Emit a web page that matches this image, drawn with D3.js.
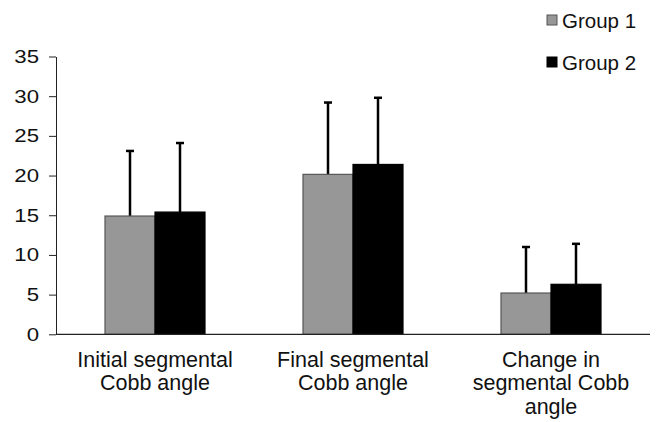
<!DOCTYPE html>
<html><head><meta charset="utf-8">
<script src="https://cdn.jsdelivr.net/npm/d3@7"></script>
<style>body{margin:0;background:#fff}svg{display:block}text{font-family:"Liberation Sans",Arial,sans-serif;fill:#111}</style>
</head><body>
<script>
const categories = [["Initial segmental","Cobb angle"],["Final segmental","Cobb angle"],["Change in","segmental Cobb","angle"]];
const seriesNames = ["Group 1","Group 2"];
const group1Mean = [14.9, 20.15, 5.2];
const group1SD = [8.2, 9.05, 5.8];
const group2Mean = [15.4, 21.4, 6.3];
const group2SD = [8.7, 8.4, 5.1];
const yTicks = [0,5,10,15,20,25,30,35];

const W=657,H=422;
const svg=d3.select("body").append("svg").attr("width",W).attr("height",H);
const x=d3.scaleBand().domain(d3.range(categories.length)).range([56,650]);
const x1=d3.scaleBand().domain([0,1]).range([x.bandwidth()/2-50,x.bandwidth()/2+50]);
const y=d3.scaleLinear().domain([0,35]).range([334.3,56.5]);
const fills=["#979797","#000"], strokes=["#555","#000"];
const means=[group1Mean,group2Mean], sds=[group1SD,group2SD];

// y axis
const ya=svg.append("g").attr("transform","translate(56,0)")
  .call(d3.axisLeft(y).tickValues(yTicks).tickSize(7).tickPadding(0).tickSizeOuter(0));
ya.select(".domain").attr("stroke","#222");
ya.selectAll(".tick line").attr("stroke","#222");
ya.selectAll("text").attr("x",null).attr("font-size",18.5).attr("fill","#111")
  .attr("transform","translate(-17,0) scale(1.2,1)")
  .style("font-family","'Liberation Sans',Arial,sans-serif");

// bars
categories.forEach((c,i)=>{
  const g=svg.append("g").attr("transform",`translate(${x(i)},0)`);
  [0,1].forEach(s=>{
    const v=means[s][i], e=sds[s][i];
    const cx=x1(s)+x1.bandwidth()/2;
    g.append("line").attr("x1",cx).attr("x2",cx).attr("y1",y(v)).attr("y2",y(v+e)).attr("stroke","#000").attr("stroke-width",2.5);
    g.append("line").attr("x1",cx-4).attr("x2",cx+4).attr("y1",y(v+e)).attr("y2",y(v+e)).attr("stroke","#000").attr("stroke-width",2.5);
    g.append("rect").attr("x",x1(s)).attr("width",x1.bandwidth()).attr("y",y(v)).attr("height",y(0)-y(v))
      .attr("fill",fills[s]).attr("stroke",strokes[s]).attr("stroke-width",1.2);
  });
});

// x axis
svg.append("line").attr("x1",56).attr("x2",650).attr("y1",y(0)).attr("y2",y(0)).attr("stroke","#222").attr("stroke-width",1.2);

// category labels
categories.forEach((lines,i)=>{
  const t=svg.append("text").attr("text-anchor","middle").attr("font-size",21.5);
  lines.forEach((l,j)=>t.append("tspan").attr("x",x(i)+x.bandwidth()/2).attr("y",366.7+j*23.7).text(l));
});

// legend
seriesNames.forEach((n,s)=>{
  const ly=15+s*42;
  svg.append("rect").attr("x",547).attr("y",ly).attr("width",10).attr("height",10).attr("fill",fills[s]).attr("stroke",strokes[s]);
  svg.append("text").attr("x",562).attr("y",ly+12.5).attr("font-size",20.5).text(n);
});
</script>
</body></html>
